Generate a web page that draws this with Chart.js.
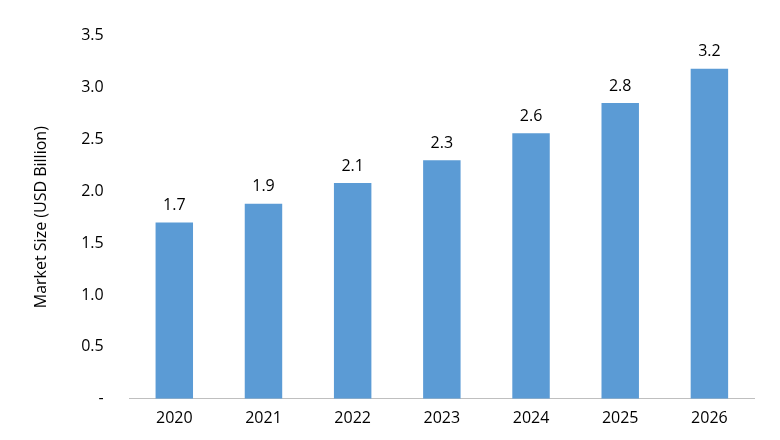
<!DOCTYPE html>
<html><head><meta charset="utf-8">
<script src="https://cdn.jsdelivr.net/npm/chart.js@4"></script>
<style>html,body{margin:0;background:#fff}#w{width:780px;height:440px}</style>
</head><body><div id="w"><canvas id="c"></canvas></div>
<script>
const categories=["2020","2021","2022","2023","2024","2025","2026"];
const marketSize=[1.70,1.88,2.08,2.30,2.56,2.85,3.18];
const valueLabels=["1.7","1.9","2.1","2.3","2.6","2.8","3.2"];
const yTitle="Market Size (USD Billion)";
const F="'Open Sans', sans-serif";
const labelPlugin={id:"vl",afterDatasetsDraw(ch){const ctx=ch.ctx;const m=ch.getDatasetMeta(0);ctx.save();ctx.font="16px "+F;ctx.fillStyle="#000";ctx.textAlign="center";ctx.textBaseline="bottom";m.data.forEach((b,i)=>ctx.fillText(valueLabels[i],b.x,b.y-9));ctx.restore();}};
new Chart(document.getElementById("c"),{type:"bar",
data:{labels:categories,datasets:[{data:marketSize,backgroundColor:"#5b9bd5",barPercentage:0.42,categoryPercentage:1}]},
options:{responsive:true,maintainAspectRatio:false,animation:false,
layout:{padding:{top:-17,right:26,left:28,bottom:2}},
plugins:{legend:{display:false},tooltip:{enabled:false}},
scales:{
x:{grid:{display:false,drawTicks:false},border:{color:"#bfbfbf"},ticks:{color:"#000",font:{family:F,size:16},padding:10}},
y:{min:0,max:3.5,grid:{display:false,drawTicks:false},border:{display:false},
ticks:{stepSize:0.5,color:"#000",font:{family:F,size:16},padding:26,callback:v=>v===0?"-":v.toFixed(1)},
title:{display:true,text:yTitle,color:"#000",font:{family:F,size:16}}}}},
plugins:[labelPlugin]});
</script></body></html>
